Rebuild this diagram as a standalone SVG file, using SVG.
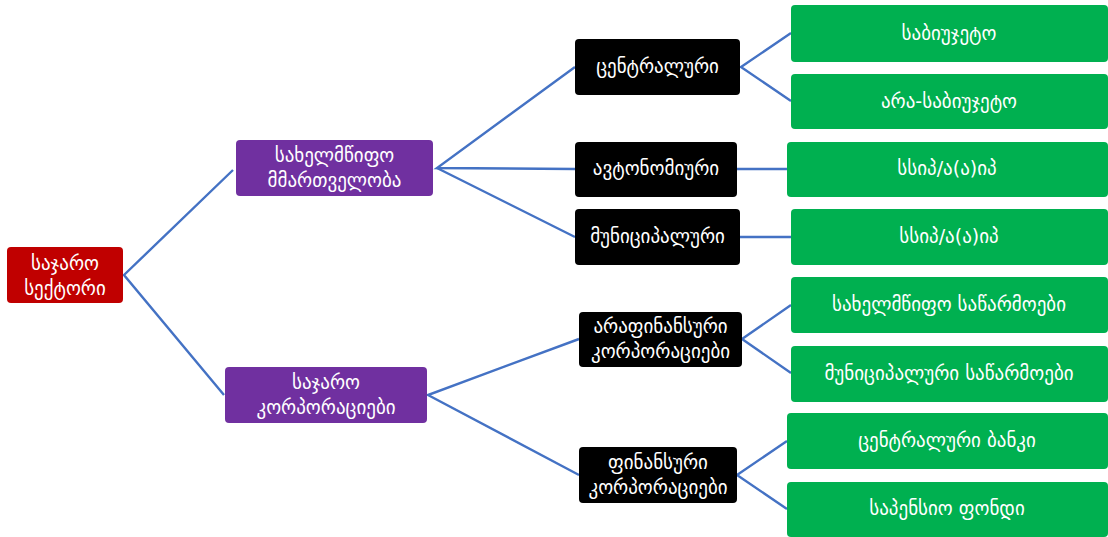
<svg xmlns="http://www.w3.org/2000/svg" width="1108" height="537" viewBox="0 0 1108 537">
<style>
.t{font-family:"DejaVu Sans","Noto Sans",sans-serif;font-size:19px;fill:#fff;text-anchor:middle}
.red{fill:#C00000}
.pur{fill:#7030A0}
.blk{fill:#000}
.grn{fill:#00B050}
.c{stroke:#4472C4;stroke-width:2.4;fill:none}
</style>
<rect width="1108" height="537" fill="#fff"/>
<g id="connectors">
<polyline class="c" points="233,170 124,275 224,395"/>
<polyline class="c" points="575,67 437,168 575,169"/>
<line class="c" x1="437" y1="168" x2="575" y2="237"/>
<polyline class="c" points="579,339 428,395 579,475"/>
<polyline class="c" points="791,33 741,67 791,101"/>
<line class="c" x1="737" y1="169" x2="787" y2="169"/>
<line class="c" x1="740" y1="237" x2="791" y2="237"/>
<polyline class="c" points="791,305 742,339 791,373"/>
<polyline class="c" points="787,441 737,475 787,509"/>
</g>
<g id="n-root"><rect class="red" x="7" y="247" width="116" height="56" rx="4"/><text class="t" x="65" y="270">საჯარო</text><text class="t" x="65" y="295">სექტორი</text></g>
<g id="n-state"><rect class="pur" x="236" y="140" width="197" height="56" rx="4"/><text class="t" x="334.5" y="162">სახელმწიფო</text><text class="t" x="334.5" y="187">მმართველობა</text></g>
<g id="n-corp"><rect class="pur" x="225" y="367" width="202" height="56" rx="4"/><text class="t" x="326" y="389">საჯარო</text><text class="t" x="326" y="414">კორპორაციები</text></g>
<g id="n-central"><rect class="blk" x="575" y="39" width="165" height="56" rx="4"/><text class="t" x="657.5" y="73">ცენტრალური</text></g>
<g id="n-auto"><rect class="blk" x="575" y="142" width="162" height="55" rx="4"/><text class="t" x="656" y="175">ავტონომიური</text></g>
<g id="n-muni"><rect class="blk" x="575" y="209" width="165" height="56" rx="4"/><text class="t" x="657.5" y="243">მუნიციპალური</text></g>
<g id="n-nonfin"><rect class="blk" x="579" y="312" width="163" height="55" rx="4"/><text class="t" x="660.5" y="333">არაფინანსური</text><text class="t" x="660.5" y="358">კორპორაციები</text></g>
<g id="n-fin"><rect class="blk" x="579" y="447" width="158" height="56" rx="4"/><text class="t" x="658" y="469">ფინანსური</text><text class="t" x="658" y="494">კორპორაციები</text></g>
<g id="n-budget"><rect class="grn" x="791" y="5" width="317" height="57" rx="4"/><text class="t" x="949" y="40">საბიუჯეტო</text></g>
<g id="n-nonbudget"><rect class="grn" x="791" y="74" width="317" height="55" rx="4"/><text class="t" x="949" y="108">არა-საბიუჯეტო</text></g>
<g id="n-lepl1"><rect class="grn" x="787" y="142" width="321" height="55" rx="4"/><text class="t" x="947" y="175">სსიპ/ა(ა)იპ</text></g>
<g id="n-lepl2"><rect class="grn" x="791" y="209" width="317" height="56" rx="4"/><text class="t" x="949" y="243">სსიპ/ა(ა)იპ</text></g>
<g id="n-stateent"><rect class="grn" x="791" y="277" width="317" height="56" rx="4"/><text class="t" x="949" y="311">სახელმწიფო საწარმოები</text></g>
<g id="n-munient"><rect class="grn" x="791" y="346" width="317" height="56" rx="4"/><text class="t" x="949" y="380">მუნიციპალური საწარმოები</text></g>
<g id="n-cbank"><rect class="grn" x="787" y="413" width="321" height="56" rx="4"/><text class="t" x="947" y="447">ცენტრალური ბანკი</text></g>
<g id="n-pension"><rect class="grn" x="787" y="482" width="321" height="55" rx="4"/><text class="t" x="947" y="515">საპენსიო ფონდი</text></g>
</svg>
